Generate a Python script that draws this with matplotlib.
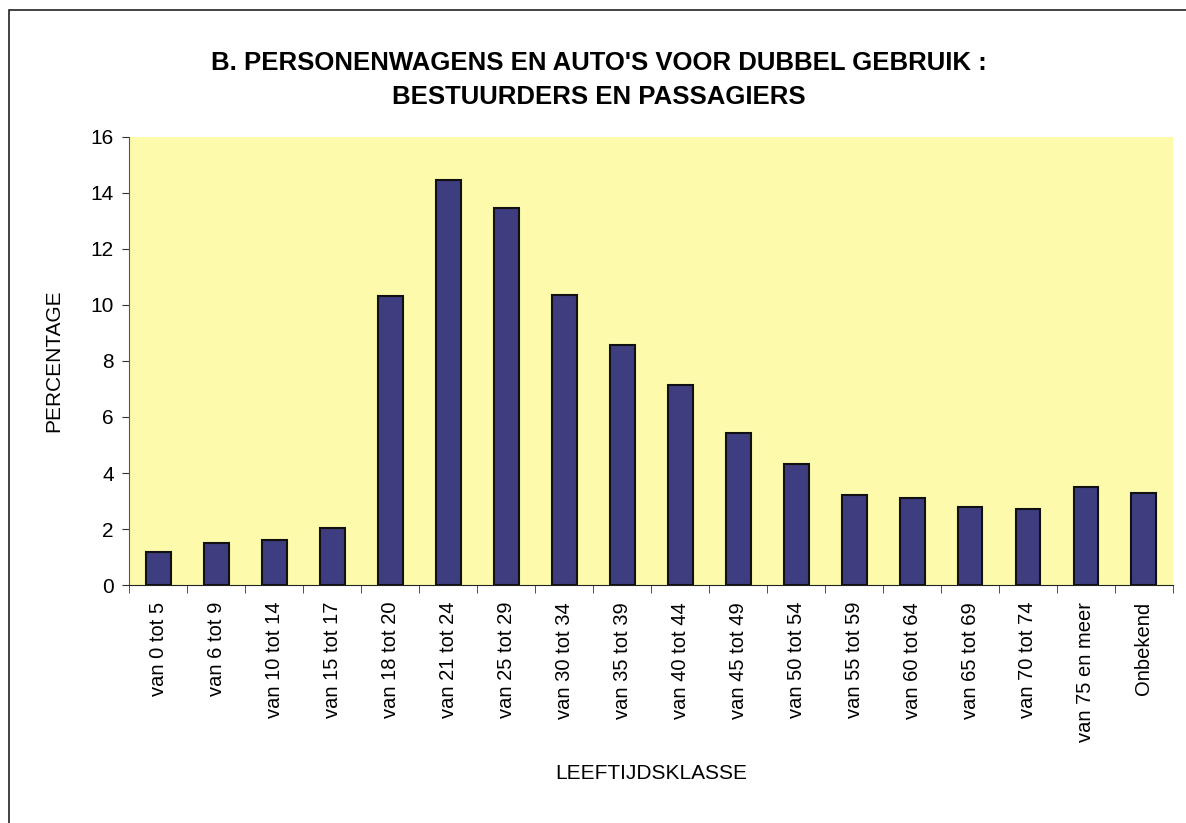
import matplotlib
matplotlib.use("Agg")
import matplotlib.pyplot as plt
from matplotlib.patches import Rectangle

plt.rcParams["font.family"] = ["Liberation Sans", "DejaVu Sans"]

age_classes = [
    "van 0 tot 5", "van 6 tot 9", "van 10 tot 14", "van 15 tot 17",
    "van 18 tot 20", "van 21 tot 24", "van 25 tot 29", "van 30 tot 34",
    "van 35 tot 39", "van 40 tot 44", "van 45 tot 49", "van 50 tot 54",
    "van 55 tot 59", "van 60 tot 64", "van 65 tot 69", "van 70 tot 74",
    "van 75 en meer", "Onbekend",
]
percentages = [1.2, 1.5, 1.6, 2.05, 10.3, 14.45, 13.45, 10.35, 8.55, 7.15,
               5.42, 4.32, 3.2, 3.1, 2.8, 2.7, 3.5, 3.3]
y_ticks = [0, 2, 4, 6, 8, 10, 12, 14, 16]

fig = plt.figure(figsize=(11.86, 8.23), dpi=100)
fig.patch.set_facecolor("white")
# page frame around the chart
fig.patches.append(Rectangle((0.008, -0.01), 1.1, 0.998, transform=fig.transFigure,
                             fill=False, edgecolor="#222222", linewidth=1.2))

ax = fig.add_axes([0.109, 0.289, 0.880, 0.545])
ax.set_facecolor("#fdfbab")

x = range(len(age_classes))
ax.bar(x, percentages, width=0.43, color="#3d3d80", edgecolor="#111111", linewidth=1.5)

ax.set_xlim(-0.5, len(age_classes) - 0.5)
ax.set_ylim(0, 16)
ax.set_yticks(y_ticks)
ax.set_yticklabels([str(t) for t in y_ticks], fontsize=15)
ax.set_xticks(list(x))
ax.set_xticklabels(age_classes, rotation=90, fontsize=14.5)
ax.tick_params(axis="x", length=0, pad=12)
ax.set_xticks([i + 0.5 for i in range(-1, len(age_classes))], minor=True)
ax.tick_params(axis="x", which="minor", length=6, direction="out", color="#333333")
ax.tick_params(axis="y", length=5, direction="out", color="#333333", pad=6)

for side in ["top", "right"]:
    ax.spines[side].set_visible(False)
ax.spines["left"].set_color("#555555")
ax.spines["bottom"].set_color("#222222")

ax.set_ylabel("PERCENTAGE", fontsize=15, labelpad=20)
ax.set_xlabel("LEEFTIJDSKLASSE", fontsize=15, labelpad=16)

fig.text(0.505, 0.923, "B. PERSONENWAGENS EN AUTO'S VOOR DUBBEL GEBRUIK :",
         ha="center", va="center", fontsize=18.5, fontweight="bold")
fig.text(0.505, 0.882, "BESTUURDERS EN PASSAGIERS",
         ha="center", va="center", fontsize=18.5, fontweight="bold")

fig.savefig("out.png", dpi=100)
